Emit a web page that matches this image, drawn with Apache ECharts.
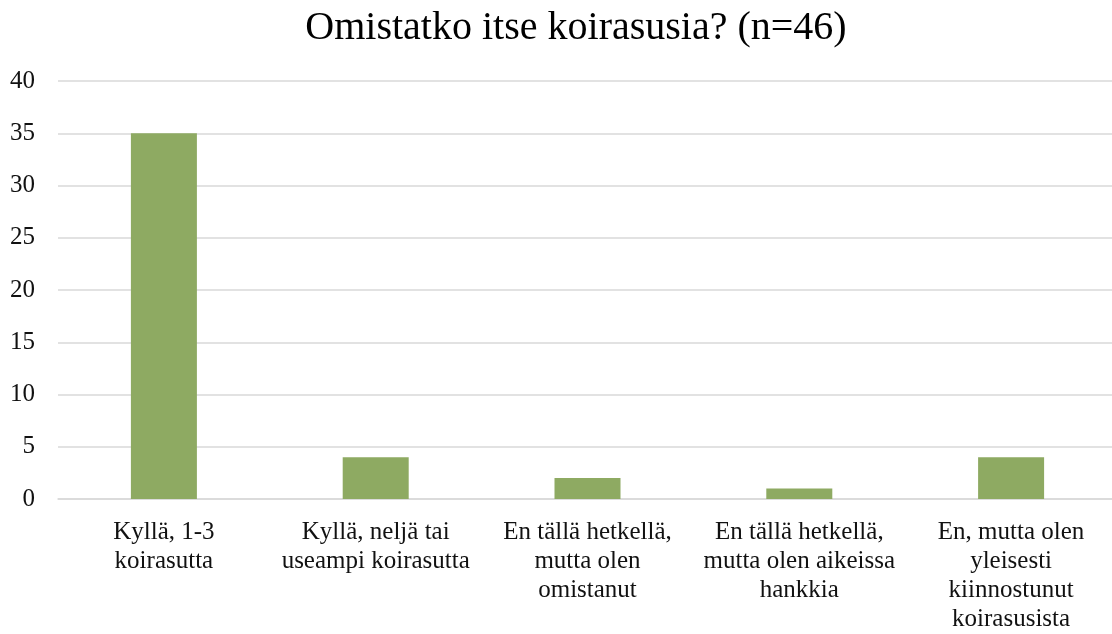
<!DOCTYPE html>
<html>
<head>
<meta charset="utf-8">
<script src="https://cdn.jsdelivr.net/npm/echarts@6/dist/echarts.min.js"></script>
<style>
html,body{margin:0;padding:0;background:#fff;overflow:hidden;}
#c{width:1117px;height:634px;}
</style>
</head>
<body>
<div id="c"></div>
<script>
var titleText = 'Omistatko itse koirasusia? (n=46)';
var categories = [
  'Kyllä, 1-3\nkoirasutta',
  'Kyllä, neljä tai\nuseampi koirasutta',
  'En tällä hetkellä,\nmutta olen\nomistanut',
  'En tällä hetkellä,\nmutta olen aikeissa\nhankkia',
  'En, mutta olen\nyleisesti\nkiinnostunut\nkoirasusista'
];
var values = [35, 4, 2, 1, 4];
var yMin = 0, yMax = 40, yStep = 5;

var font = '"Liberation Serif", "DejaVu Serif", serif';
var chart = echarts.init(document.getElementById('c'));
chart.setOption({
  animation: false,
  backgroundColor: '#ffffff',
  title: {
    text: titleText,
    left: 571,
    top: 3,
    textAlign: 'center',
    textStyle: { fontFamily: font, fontSize: 40, fontWeight: 'normal', color: '#000000' }
  },
  grid: { left: 58, right: 0, top: 81, bottom: 133, containLabel: false },
  xAxis: {
    type: 'category',
    data: categories,
    axisLine: { show: true, lineStyle: { color: '#d9d9d9', width: 1.5 } },
    axisTick: { show: false },
    axisLabel: {
      interval: 0,
      margin: 19,
      fontFamily: font,
      fontSize: 25,
      lineHeight: 29,
      color: '#111111',
      align: 'center',
      verticalAlign: 'top'
    }
  },
  yAxis: {
    type: 'value',
    min: yMin,
    max: yMax,
    interval: yStep,
    axisLine: { show: false },
    axisTick: { show: false },
    splitLine: { lineStyle: { color: '#d9d9d9', width: 1.5 } },
    axisLabel: { margin: 23, fontFamily: font, fontSize: 25, color: '#111111' }
  },
  series: [{
    type: 'bar',
    data: values,
    barWidth: 66,
    itemStyle: { color: '#8eaa62' }
  }]
});
</script>
</body>
</html>
